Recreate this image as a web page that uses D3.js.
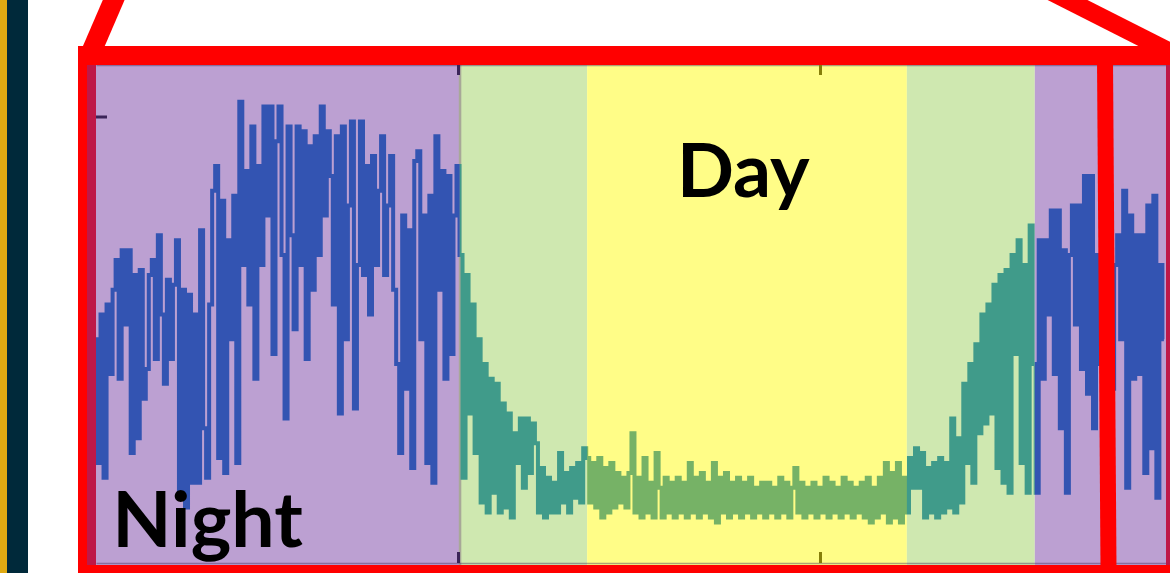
<!DOCTYPE html>
<html>
<head>
<meta charset="utf-8">
<script src="https://cdn.jsdelivr.net/npm/d3@7"></script>
<style>
  body { margin: 0; background: #fff; }
  svg { display: block; }
</style>
</head>
<body>
<div id="chart"></div>
<script>
// one sample every 3 minutes, time in hours from the start of the record
const sampleStep = 0.05;
const signal = [
  45, 20, 50, 17, 52, 38, 55, 61, 37, 63,
  48, 63, 22, 58, 25, 59, 33, 39, 58, 61,
  41, 66, 50, 36, 57, 41, 56, 65, 13, 55,
  11, 54, 16, 50, 16, 67, 27, 17, 52, 75,
  80, 21, 73, 18, 65, 45, 74, 20, 93, 60,
  79, 52, 88, 37, 80, 60, 92, 70, 92, 42,
  85, 92, 62, 29, 88, 66, 47, 88, 60, 87,
  41, 84, 55, 86, 62, 92, 70, 87, 78, 52,
  86, 30, 88, 45, 72, 89, 31, 60, 89, 58,
  80, 50, 82, 60, 75, 86, 58, 72, 82, 55,
  40, 22, 70, 35, 67, 19, 81, 83, 45, 70,
  20, 74, 16, 86, 55, 79, 37, 78, 42, 70,
  80,
  // dawn
  62, 17, 58, 30, 52, 22, 45, 12, 40, 10,
  37, 14, 36, 10, 32, 11, 30, 9, 26, 20,
  29, 15, 29, 18, 28, 24, 10, 19, 9, 17,
  10, 16, 10, 22, 12, 18, 10, 19, 13, 20,
  12, 23,
  // day
  21, 12, 20, 11, 21, 9, 19, 10, 20, 11,
  18, 12, 17, 11, 18, 26, 10, 17, 9, 21,
  10, 16, 9, 22, 15, 9, 17, 10, 16, 9,
  17, 10, 16, 9, 20, 10, 17, 9, 18, 10,
  16, 9, 20, 8, 17, 10, 18, 9, 16, 10,
  17, 9, 16, 10, 17, 9, 15, 10, 16, 9,
  16, 10, 15, 9, 17, 10, 16, 9, 15, 19,
  10, 16, 9, 15, 10, 16, 9, 15, 10, 17,
  9, 16, 10, 15, 9, 17, 10, 16, 9, 15,
  10, 16, 9, 17, 8, 15, 9, 17, 10, 20,
  8, 18, 9, 20, 8, 17,
  // dusk
  10, 21, 15, 23, 15, 22, 9, 19, 10, 20,
  9, 21, 10, 20, 11, 29, 10, 25, 12, 36,
  20, 40, 16, 44, 26, 50, 28, 52, 30, 56,
  19, 58, 16, 59, 14, 62, 42, 65, 20, 60,
  14, 68, 40,
  // night again
  14, 65, 37, 65, 50, 71, 38, 71, 27, 63,
  14, 62, 72, 48, 72, 39, 78, 34, 78, 27,
  62, 40, 70, 30, 66, 35, 60, 66, 45, 75,
  15, 70, 37, 66, 38, 66, 18, 72, 23, 74,
  13, 60, 45
];
const bandStart = [0, 6.03, 8.14, 13.44, 15.56];
const bandEnd   = [6.03, 8.14, 13.44, 15.56, 18];
const bandPhase = ["night", "twilight", "day", "twilight", "night"];
const hourTicks = [6, 12];
const levelTicks = [90];

const phaseFill = { night: "#bca0d2", twilight: "#cfe8b0", day: "#fffd87" };
const phaseLine = { night: "#3354b2", twilight: "#409b8a", day: "#76b266" };

const W = 1170, H = 573;
const plot = { left: 96, right: 1166, top: 65, bottom: 565 };

const svg = d3.select("#chart").append("svg")
  .attr("width", W).attr("height", H);

// side strips of the slide
svg.append("rect").attr("x", 0).attr("y", 0).attr("width", 7).attr("height", H).attr("fill", "#e0aa12");
svg.append("rect").attr("x", 7).attr("y", 0).attr("width", 21).attr("height", H).attr("fill", "#00293a");

const x = d3.scaleLinear().domain([0, 18]).range([96, 1182]);
const y = d3.scaleLinear().domain([0, 100]).range([562, 67]);

const defs = svg.append("defs");
defs.append("clipPath").attr("id", "plot-clip")
  .append("rect")
  .attr("x", plot.left).attr("y", plot.top)
  .attr("width", plot.right - plot.left).attr("height", plot.bottom - plot.top);

const bands = bandStart.map((s, i) => ({ s, e: bandEnd[i], phase: bandPhase[i], i }));

bands.forEach(b => {
  defs.append("clipPath").attr("id", "band-" + b.i)
    .append("rect")
    .attr("x", x(b.s)).attr("y", plot.top)
    .attr("width", x(b.e) - x(b.s)).attr("height", plot.bottom - plot.top);
});

const g = svg.append("g").attr("clip-path", "url(#plot-clip)");

g.selectAll("rect.band")
  .data(bands)
  .join("rect")
  .attr("class", "band")
  .attr("x", d => x(d.s))
  .attr("y", plot.top)
  .attr("width", d => x(d.e) - x(d.s))
  .attr("height", plot.bottom - plot.top)
  .attr("fill", d => phaseFill[d.phase]);

// thin seam where the night turns into dawn
g.append("rect")
  .attr("x", x(bandEnd[0]) - 1).attr("y", plot.top)
  .attr("width", 2.5).attr("height", plot.bottom - plot.top)
  .attr("fill", "#a8a898");

// axes
const xAxisBottom = g.append("g")
  .attr("transform", "translate(0,563)")
  .call(d3.axisBottom(x).tickValues(hourTicks).tickSizeInner(-11).tickSizeOuter(0).tickFormat(""));
const xAxisTop = g.append("g")
  .attr("transform", `translate(0,${plot.top})`)
  .call(d3.axisTop(x).tickValues(hourTicks).tickSizeInner(-10).tickSizeOuter(0).tickFormat(""));
[xAxisBottom, xAxisTop].forEach(a => {
  a.select(".domain").attr("stroke", "#4a3060").attr("stroke-opacity", 0.45).attr("stroke-width", 1.5);
  a.selectAll(".tick line")
    .attr("stroke", d => d < 8 ? "#3b2458" : "#867e0a")
    .attr("stroke-width", 3);
});
const yAxis = g.append("g")
  .attr("transform", `translate(${plot.left},0)`)
  .call(d3.axisLeft(y).tickValues(levelTicks).tickSizeInner(-11).tickSizeOuter(0).tickFormat(""));
yAxis.select(".domain").remove();
yAxis.selectAll(".tick line").attr("stroke", "#3b2458").attr("stroke-width", 3);

// the signal, coloured by the light phase it falls in
const line = d3.line()
  .curve(d3.curveStep)
  .x((d, i) => x(i * sampleStep))
  .y(d => y(d));

bands.forEach(b => {
  g.append("path")
    .datum(signal)
    .attr("clip-path", "url(#band-" + b.i + ")")
    .attr("d", line)
    .attr("fill", "none")
    .attr("stroke", phaseLine[b.phase])
    .attr("stroke-width", 4)
    .attr("stroke-linejoin", "miter");
});

// labels
svg.append("text")
  .attr("x", x(0.27)).attr("y", y(3))
  .attr("font-family", "Lato, 'Open Sans', sans-serif")
  .attr("font-weight", 700).attr("font-size", 77)
  .attr("fill", "#000")
  .text("Night");
svg.append("text")
  .attr("x", x(9.63)).attr("y", y(73.7))
  .attr("font-family", "Lato, 'Open Sans', sans-serif")
  .attr("font-weight", 700).attr("font-size", 75)
  .attr("fill", "#000")
  .text("Day");

// plot edges
svg.append("rect").attr("x", 87).attr("y", plot.top).attr("width", 9).attr("height", plot.bottom - plot.top).attr("fill", "#be1848");
svg.append("rect").attr("x", plot.right).attr("y", plot.top).attr("width", W - plot.right).attr("height", plot.bottom - plot.top).attr("fill", "#be1848");

// red zoom frame
const red = "#ff0000";
svg.append("line").attr("x1", 90).attr("y1", 55).attr("x2", 118).attr("y2", -10)
  .attr("stroke", red).attr("stroke-width", 20);
svg.append("line").attr("x1", 1030).attr("y1", -19).attr("x2", 1180).attr("y2", 57)
  .attr("stroke", red).attr("stroke-width", 18);
svg.append("rect").attr("x", 78).attr("y", 46).attr("width", W - 78).attr("height", 19).attr("fill", red);
svg.append("rect").attr("x", 78).attr("y", 46).attr("width", 9).attr("height", H - 46).attr("fill", red);
svg.append("rect").attr("x", 78).attr("y", 565).attr("width", W - 78).attr("height", 8).attr("fill", red);
svg.append("line").attr("x1", 1105).attr("y1", 60).attr("x2", 1108.5).attr("y2", 568)
  .attr("stroke", red).attr("stroke-width", 16);
</script>
</body>
</html>
